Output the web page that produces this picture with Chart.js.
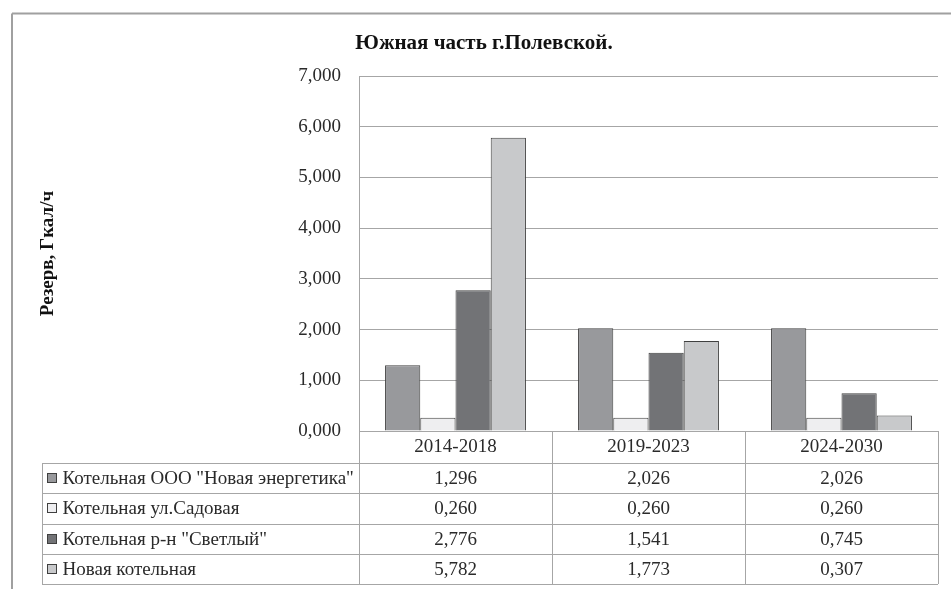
<!DOCTYPE html>
<html>
<head>
<meta charset="utf-8">
<script src="https://cdn.jsdelivr.net/npm/chart.js@4/dist/chart.umd.min.js"></script>
<style>
html,body{margin:0;padding:0;background:#fff;}
#wrap{width:951px;height:589px;}
</style>
</head>
<body>
<div id="wrap"><canvas id="c" width="951" height="589"></canvas></div>
<script>
const titleText = 'Южная часть г.Полевской.';
const yTitle = 'Резерв, Гкал/ч';
const categories = ['2014-2018', '2019-2023', '2024-2030'];
const seriesNames = ['Котельная ООО "Новая энергетика"', 'Котельная ул.Садовая', 'Котельная р-н "Светлый"', 'Новая котельная'];
const seriesNovayaEnergetika = [1.296, 2.026, 2.026];
const seriesSadovaya = [0.260, 0.260, 0.260];
const seriesSvetly = [2.776, 1.541, 0.745];
const seriesNovayaKotelnaya = [5.782, 1.773, 0.307];
const yTicks = [0, 1, 2, 3, 4, 5, 6, 7];
const seriesColors = ['#98999c', '#eeeef0', '#727376', '#c8c9cb'];

const allSeries = [seriesNovayaEnergetika, seriesSadovaya, seriesSvetly, seriesNovayaKotelnaya];
const fmt = v => v.toFixed(3).replace('.', ',');
const SERIF = '"Liberation Serif", "Times New Roman", serif';
const LINE = '#a6a6a6';
const TEXT = '#2a2a2a';
const FS = 19;

const framePlugin = {
  id: 'frame',
  beforeDraw(chart) {
    const ctx = chart.ctx;
    ctx.save();
    ctx.fillStyle = '#fff';
    ctx.fillRect(0, 0, chart.width, chart.height);
    ctx.strokeStyle = '#a0a0a0';
    ctx.lineWidth = 2;
    ctx.beginPath();
    ctx.moveTo(12, 13.5); ctx.lineTo(chart.width, 13.5);
    ctx.moveTo(12, 13.5); ctx.lineTo(12, chart.height);
    ctx.stroke();
    ctx.restore();
  }
};

const tablePlugin = {
  id: 'dataTable',
  afterDraw(chart) {
    const ctx = chart.ctx;
    const xs = chart.scales.x;
    const area = chart.chartArea;
    const half = (xs.getPixelForValue(1) - xs.getPixelForValue(0)) / 2;
    const bounds = [];
    for (let i = 0; i < categories.length; i++) bounds.push(xs.getPixelForValue(i) - half);
    bounds.push(xs.getPixelForValue(categories.length - 1) + half);
    const top = area.bottom;
    const headBottom = top + 32;
    const rowH = 30.25;
    const tableLeft = 42;
    const tableBottom = headBottom + rowH * seriesNames.length;

    ctx.save();
    ctx.strokeStyle = LINE;
    ctx.lineWidth = 1;
    ctx.beginPath();
    bounds.forEach(b => {
      const xx = Math.round(b) + 0.5;
      ctx.moveTo(xx, top); ctx.lineTo(xx, tableBottom);
    });
    ctx.moveTo(tableLeft + 0.5, headBottom); ctx.lineTo(tableLeft + 0.5, tableBottom);
    for (let r = 0; r <= seriesNames.length; r++) {
      const yy = Math.round(headBottom + r * rowH) + 0.5;
      ctx.moveTo(tableLeft, yy); ctx.lineTo(bounds[bounds.length - 1], yy);
    }
    ctx.stroke();

    ctx.font = FS + 'px ' + SERIF;
    ctx.fillStyle = TEXT;
    ctx.textBaseline = 'middle';
    seriesNames.forEach((name, r) => {
      const cy = headBottom + r * rowH + rowH / 2;
      ctx.fillStyle = seriesColors[r];
      ctx.fillRect(47.5, Math.round(cy - 5) + 0.5, 9, 9);
      ctx.strokeStyle = '#404040';
      ctx.strokeRect(47.5, Math.round(cy - 5) + 0.5, 9, 9);
      ctx.fillStyle = TEXT;
      ctx.textAlign = 'left';
      ctx.fillText(name, 62.5, cy + 1);
      ctx.textAlign = 'center';
      allSeries[r].forEach((v, i) => {
        ctx.fillText(fmt(v), xs.getPixelForValue(i), cy + 1);
      });
    });
    ctx.restore();
  }
};

const datasets = seriesNames.map((n, i) => ({
  label: n,
  data: allSeries[i],
  backgroundColor: seriesColors[i],
  borderColor: '#404040',
  borderWidth: 1,
  borderSkipped: 'start',
  categoryPercentage: 0.73,
  barPercentage: 1.0
}));

new Chart(document.getElementById('c'), {
  type: 'bar',
  data: { labels: categories, datasets },
  options: {
    responsive: false,
    animation: false,
    devicePixelRatio: 1,
    layout: { padding: { top: 14, left: 30, right: 13, bottom: 0 } },
    plugins: {
      legend: { display: false },
      tooltip: { enabled: false },
      title: {
        display: true,
        text: titleText,
        color: '#111',
        font: { family: SERIF, size: 21, weight: 'bold' },
        padding: { top: 17.4, bottom: 19.4 }
      }
    },
    scales: {
      x: {
        grid: { display: false, drawTicks: false },
        border: { display: false },
        ticks: { color: TEXT, font: { family: SERIF, size: FS }, padding: 5, maxRotation: 0 },
        afterFit(scale) { scale.height = 158; }
      },
      y: {
        min: 0, max: 7,
        afterBuildTicks(scale) { scale.ticks = yTicks.map(v => ({ value: v })); },
        grid: { color: LINE, lineWidth: 1, drawTicks: false },
        border: { display: true, color: LINE, width: 1 },
        ticks: { color: TEXT, font: { family: SERIF, size: FS }, padding: 18, callback: v => fmt(v) },
        title: {
          display: true,
          text: yTitle,
          color: '#111',
          font: { family: SERIF, size: 19, weight: 'bold' },
          padding: { top: 6.6, bottom: 0 }
        },
        afterFit(scale) { scale.width = 329; }
      }
    }
  },
  plugins: [framePlugin, tablePlugin]
});
</script>
</body>
</html>
